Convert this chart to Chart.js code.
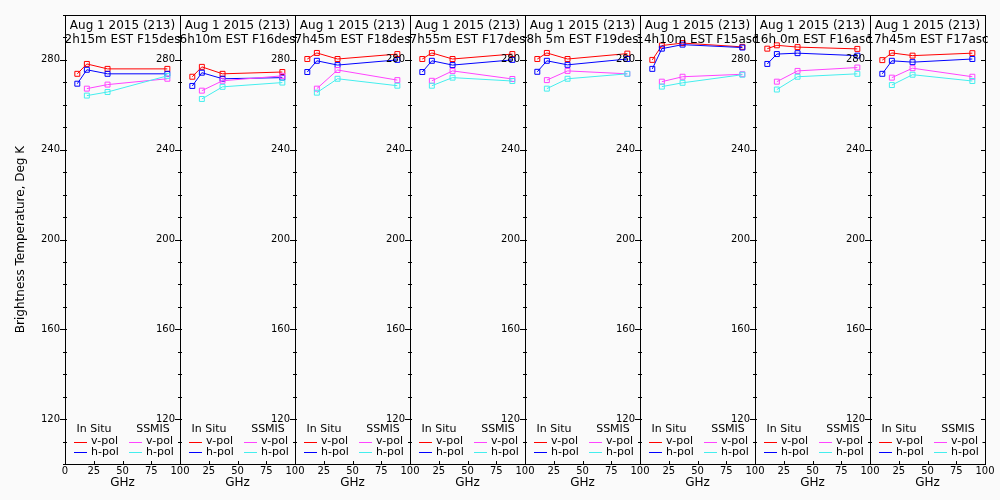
<!DOCTYPE html>
<html>
<head>
<meta charset="utf-8">
<script src="https://cdn.jsdelivr.net/npm/chart.js@4.4.1/dist/chart.umd.min.js"></script>
<style>
  body { margin: 0; background: #fafafa; }
  #wrap { position: relative; width: 1000px; height: 500px; }
  #wrap canvas { position: absolute; left: 0; top: 0; }
</style>
</head>
<body>
<div id="wrap"></div>
<script>
// ---- data ----
const dateLabel = 'Aug 1 2015 (213)';
const passLabels = [
  '2h15m EST F15des', '6h10m EST F16des', '7h45m EST F18des', '7h55m EST F17des',
  '8h 5m EST F19des', '14h10m EST F15asc', '16h 0m EST F16asc', '17h45m EST F17asc'
];

const inSituFreq = [10.7, 19.0, 37.0, 89.0];
const ssmisFreq = [19.0, 37.0, 89.0];

const inSituV = [
  [273.8, 278.2, 276.0, 276.0],
  [272.5, 276.9, 273.8, 274.6],
  [280.4, 283.1, 280.4, 282.6],
  [280.4, 283.1, 280.4, 282.6],
  [280.4, 283.1, 280.4, 282.8],
  [280.0, 286.4, 287.5, 285.8],
  [285.0, 286.5, 285.7, 284.9],
  [279.9, 283.1, 281.9, 283.0]
];
const inSituH = [
  [269.4, 275.6, 273.8, 273.8],
  [268.4, 274.3, 271.6, 272.1],
  [274.6, 279.6, 277.7, 280.0],
  [274.6, 279.6, 277.7, 280.0],
  [274.7, 279.6, 277.8, 280.4],
  [276.0, 285.0, 286.8, 285.5],
  [278.2, 282.6, 283.0, 281.9],
  [273.8, 279.6, 279.0, 280.4]
];
const ssmisV = [
  [267.2, 269.0, 271.6],
  [266.3, 270.7, 272.9],
  [267.2, 275.5, 271.0],
  [270.7, 275.1, 271.5],
  [271.0, 275.1, 273.8],
  [270.3, 272.5, 273.6],
  [270.3, 275.1, 276.6],
  [272.1, 276.3, 272.5]
];
const ssmisH = [
  [264.1, 265.7, 272.9],
  [262.6, 268.0, 269.9],
  [265.4, 271.6, 268.5],
  [268.5, 272.1, 270.6],
  [267.2, 271.6, 273.8],
  [268.1, 269.8, 273.4],
  [266.8, 272.5, 273.8],
  [268.8, 273.4, 270.6]
];

const yTickLabels = [120, 160, 200, 240, 280];
const xTickLabels = [0, 25, 50, 75, 100];

// ---- layout ----
const FONT = 'DejaVu Sans';
const PANEL_LEFT = 65, PANEL_W = 115, PANEL_TOP = 15, PANEL_BOTTOM = 464;
const X_AXIS_H = 30;

// frame, inward ticks, header text and the little two-column legend
const panelDecor = {
  id: 'panelDecor',
  afterDraw(chart, args, opts) {
    const { ctx, chartArea: a, scales: { x, y } } = chart;
    ctx.save();
    ctx.strokeStyle = '#000';
    ctx.lineWidth = 1;
    ctx.strokeRect(a.left + 0.5, a.top + 0.5, a.right - a.left, a.bottom - a.top);

    ctx.beginPath();
    y.ticks.forEach(t => {
      const py = Math.round(y.getPixelForValue(t.value)) + 0.5;
      const major = yTickLabels.includes(t.value);
      ctx.moveTo(a.left - (major ? 5 : 2), py);
      ctx.lineTo(a.left + 2, py);
      if (opts.last) {
        ctx.moveTo(a.right - (major ? 4 : 2.5), py);
        ctx.lineTo(a.right + 1, py);
      }
    });
    x.ticks.forEach(t => {
      const px = Math.round(x.getPixelForValue(t.value)) + 0.5;
      ctx.moveTo(px, a.bottom);
      ctx.lineTo(px, a.bottom - 3);
    });
    ctx.stroke();

    // header
    const cx = (a.left + a.right) / 2;
    ctx.fillStyle = '#000';
    ctx.font = '12px "' + FONT + '"';
    ctx.textAlign = 'center';
    ctx.textBaseline = 'alphabetic';
    ctx.fillText(dateLabel, cx, a.top + 14);
    ctx.fillText(passLabels[opts.index], cx, a.top + 27.5);

    // legend
    ctx.font = '11px "' + FONT + '"';
    ctx.textBaseline = 'middle';
    const groups = ['In Situ', 'SSMIS'];
    const colX = [9, 64];
    const headX = [29, 88];
    const rowY = [a.bottom - 22.5, a.bottom - 12];
    groups.forEach((g, c) => {
      ctx.textAlign = 'center';
      ctx.fillText(g, a.left + headX[c], a.bottom - 35);
    });
    chart.data.datasets.forEach(ds => {
      const c = groups.indexOf(ds.group);
      const r = ds.label === 'v-pol' ? 0 : 1;
      const lx = a.left + colX[c];
      const ly = Math.round(rowY[r]) + 0.5;
      ctx.strokeStyle = ds.borderColor;
      ctx.beginPath();
      ctx.moveTo(lx, ly);
      ctx.lineTo(lx + 13, ly);
      ctx.stroke();
      ctx.fillStyle = '#000';
      ctx.textAlign = 'left';
      ctx.fillText(ds.label, lx + 17, rowY[r]);
    });
    ctx.restore();
  }
};

function series(label, group, color, xs, ys, order) {
  return {
    label, group, order,
    data: xs.map((f, k) => ({ x: f, y: ys[k] })),
    borderColor: color,
    backgroundColor: 'transparent',
    borderWidth: 1,
    pointStyle: 'rect',
    pointRadius: 3.5,
    pointBorderWidth: 1,
    pointBackgroundColor: 'transparent',
    pointBorderColor: color,
    tension: 0
  };
}

const wrap = document.getElementById('wrap');

passLabels.forEach((_, i) => {
  const canvas = document.createElement('canvas');
  canvas.width = 1000;
  canvas.height = 500;
  wrap.appendChild(canvas);

  const L = PANEL_LEFT + PANEL_W * i;
  const yW = i === 0 ? 55 : 40;

  new Chart(canvas.getContext('2d'), {
    type: 'line',
    data: {
      datasets: [
        series('v-pol', 'In Situ', '#ff0000', inSituFreq, inSituV[i], 4),
        series('h-pol', 'In Situ', '#0000ff', inSituFreq, inSituH[i], 3),
        series('v-pol', 'SSMIS', '#ff44ff', ssmisFreq, ssmisV[i], 2),
        series('h-pol', 'SSMIS', '#44eeee', ssmisFreq, ssmisH[i], 1)
      ]
    },
    options: {
      responsive: false,
      animation: false,
      devicePixelRatio: 1,
      layout: {
        padding: {
          left: L - yW,
          right: 1000 - (L + PANEL_W),
          top: PANEL_TOP,
          bottom: 500 - PANEL_BOTTOM - X_AXIS_H
        }
      },
      scales: {
        x: {
          type: 'linear', min: 0, max: 100,
          grid: { display: false, drawTicks: false },
          border: { display: false },
          ticks: {
            stepSize: 25, autoSkip: false, maxRotation: 0, padding: 1,
            color: '#000', font: { family: FONT, size: 10 },
            callback: v => (i > 0 && v === 0) ? '' : (xTickLabels.includes(v) ? String(v) : '')
          },
          title: { display: true, text: 'GHz', color: '#000', font: { family: FONT, size: 12 } },
          afterFit: s => { s.height = X_AXIS_H; }
        },
        y: {
          type: 'linear', min: 100, max: 300, position: 'left',
          grid: { display: false, drawTicks: false },
          border: { display: false },
          ticks: {
            stepSize: 10, autoSkip: false, padding: 5,
            color: '#000', font: { family: FONT, size: 10 },
            callback: v => yTickLabels.includes(v) ? String(v) : ''
          },
          title: {
            display: i === 0, text: 'Brightness Temperature, Deg K',
            color: '#000', font: { family: FONT, size: 12 }
          },
          afterFit: s => { s.width = yW; }
        }
      },
      plugins: {
        legend: { display: false },
        tooltip: { enabled: false },
        panelDecor: { index: i, last: i === passLabels.length - 1 }
      }
    },
    plugins: [panelDecor]
  });
});
</script>
</body>
</html>
